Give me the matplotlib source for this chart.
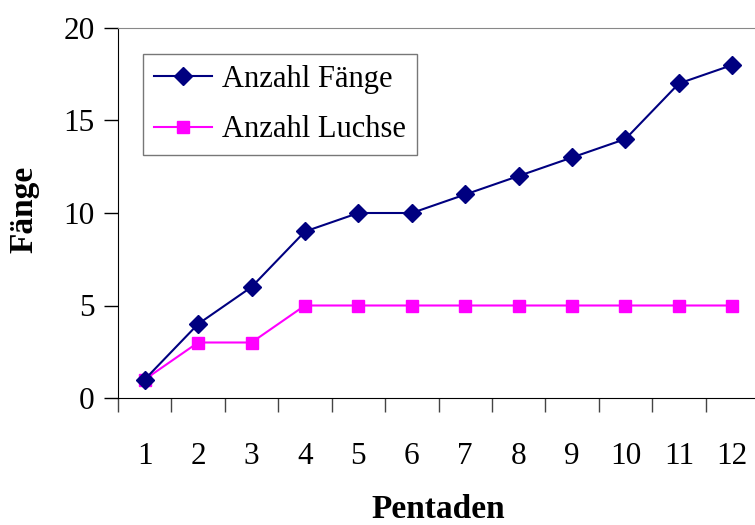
import matplotlib.pyplot as plt
import numpy as np

# data
pentaden = ['1', '2', '3', '4', '5', '6', '7', '8', '9', '10', '11', '12']
faenge = [1, 4, 6, 9, 10, 10, 11, 12, 13, 14, 17, 18]
luchse = [1, 3, 3, 5, 5, 5, 5, 5, 5, 5, 5, 5]

plt.rcParams['font.family'] = ['Liberation Serif', 'DejaVu Serif']

fig = plt.figure(figsize=(7.55, 5.25), dpi=100)
ax = fig.add_axes([118 / 755, 127 / 525, 641 / 755, 370 / 525])

x = np.arange(1, len(pentaden) + 1)
ax.plot(x, faenge, color='#000080', lw=1.5, marker='D', ms=9.5,
        label='Anzahl Fänge', clip_on=False, zorder=3)
ax.plot(x, luchse, color='#FF00FF', lw=1.5, marker='s', ms=9,
        label='Anzahl Luchse', clip_on=False, zorder=2)

ax.set_xlim(0.5, len(pentaden) + 0.5)
ax.set_ylim(0, 20)
ax.set_yticks([0, 5, 10, 15, 20])

# category labels centred, tick marks between categories
ax.set_xticks(x)
ax.set_xticklabels(pentaden)
ax.set_xticks(np.arange(0.5, len(pentaden) + 1), minor=True)
ax.tick_params(axis='x', which='major', length=0, pad=32, labelsize=22.5)
ax.tick_params(axis='x', which='minor', length=10, width=1, direction='out', color='#444444')
ax.tick_params(axis='y', length=10, width=1, direction='out', labelsize=22.5, pad=7)

ax.spines['right'].set_visible(False)
ax.spines['top'].set_color('#888888')
ax.spines['left'].set_color('black')
ax.spines['bottom'].set_color('black')

ax.set_ylabel('Fänge', fontsize=24, fontweight='bold')
ax.yaxis.set_label_coords((39 - 118) / 641, 0.51)
ax.set_xlabel('Pentaden', fontsize=24, fontweight='bold')
ax.xaxis.set_label_coords(0.5, (398 - 518) / 370)
ax.xaxis.label.set_va('baseline')

leg = ax.legend(loc='upper left', bbox_to_anchor=(25 / 641, 1 - 26 / 370),
                fontsize=22, frameon=True, fancybox=False, borderaxespad=0,
                handlelength=1.9, handletextpad=0.33, borderpad=0.36,
                labelspacing=0.7)
leg.get_frame().set_edgecolor('#555555')
leg.get_frame().set_linewidth(1)

fig.savefig('out.png', dpi=100)
